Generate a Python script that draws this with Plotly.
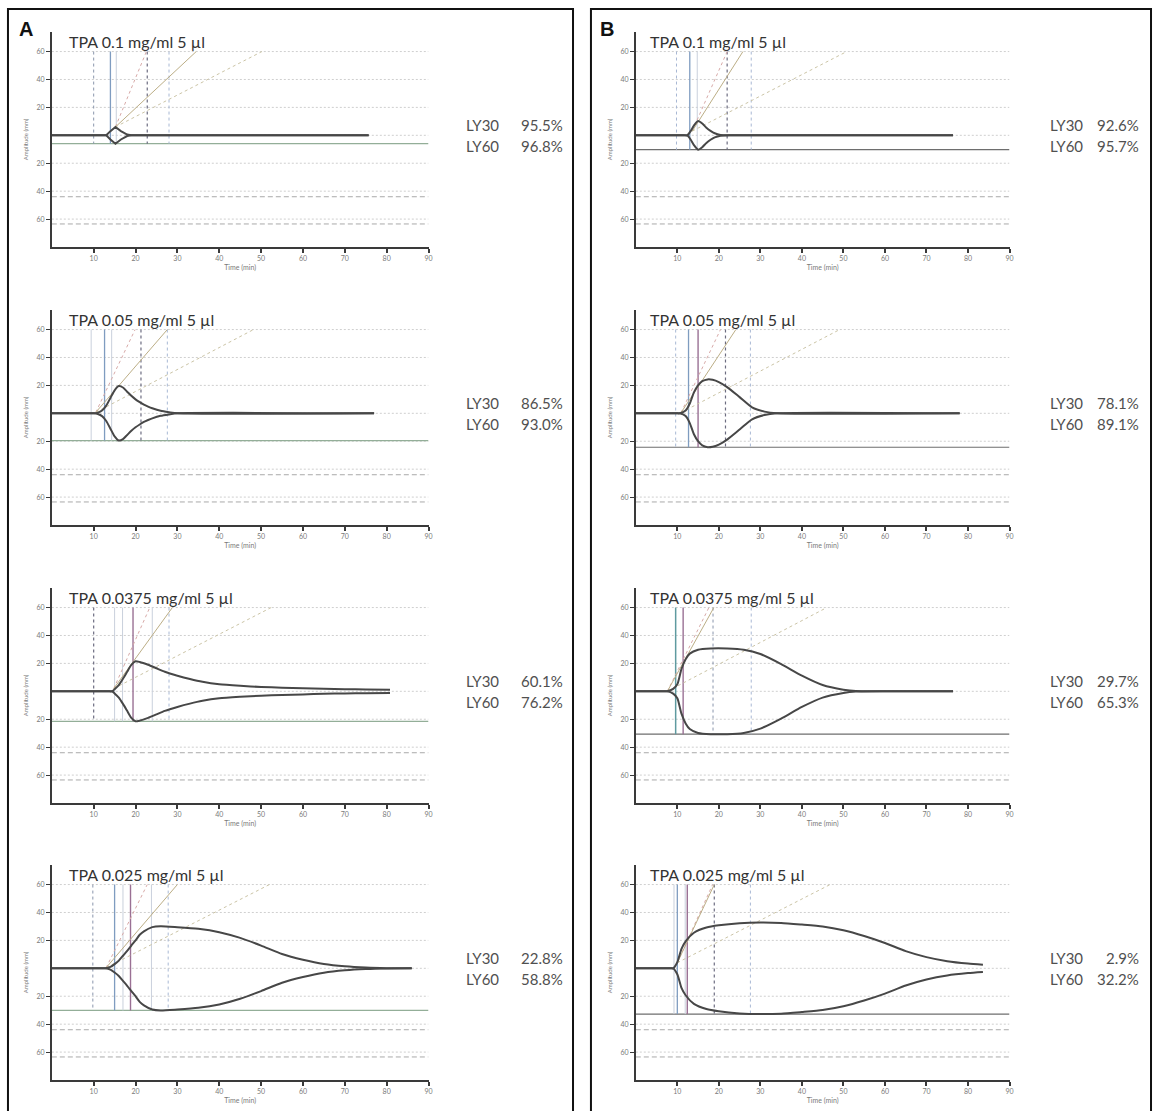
import plotly.graph_objects as go

W, H = 1159, 1111

# ---------------- data ----------------
PANELS = ["A", "B"]
TITLES = ["TPA 0.1 mg/ml 5 µl", "TPA 0.05 mg/ml 5 µl",
          "TPA 0.0375 mg/ml 5 µl", "TPA 0.025 mg/ml 5 µl"]

X_TICKS = [10, 20, 30, 40, 50, 60, 70, 80, 90]
Y_TICKS = [60, 40, 20, -20, -40, -60]
Y_TICK_TEXT = ["60", "40", "20", "20", "40", "60"]
GRID_LEVELS = [60, 40, 20, 0, -20, -40, -60]
DASHED_LEVELS = [-44, -63.5]

# lysis indices (%)
A_LY30 = [95.5, 86.5, 60.1, 22.8]
A_LY60 = [96.8, 93.0, 76.2, 58.8]
B_LY30 = [92.6, 78.1, 29.7, 2.9]
B_LY60 = [95.7, 89.1, 65.3, 32.2]

# tracing half-amplitude (mm) vs time (min)
A1_t = [0, 13.0, 14.0, 15.2, 16.5, 18.0, 19.0, 75.7]
A1_amp = [0, 0, 3, 6, 3, 0.5, 0, 0]
A2_t = [0, 9, 10, 11, 12, 13, 14, 15, 16, 17, 18, 19, 20, 21, 22, 23, 24, 26, 28, 30, 77]
A2_amp = [0, 0, 0, 0.5, 2, 5.5, 11, 16.5, 19.5, 18.5, 15.5, 12.5, 10, 8, 6.2, 4.8, 3.6, 1.8, 0.8, 0, 0]
A3_t = [0, 13.4, 14.4, 15, 16, 17, 18, 19, 20, 21, 23, 25, 27, 30, 33, 36, 40, 45, 50, 55, 60, 65, 70, 75, 80.8]
A3_amp = [0, 0, 0, 1.5, 4.5, 9, 14, 19, 21.5, 21, 19, 16.5, 14, 11.2, 8.8, 6.8, 5, 3.9, 3.1, 2.6, 2.2, 1.8, 1.5, 1.3, 1.2]
A4_t = [0, 11.8, 12.8, 14, 15, 16, 17, 18, 19, 20, 21, 22, 24, 26, 30, 35, 40, 45, 50, 55, 60, 65, 70, 75, 80, 86]
A4_amp = [0, 0, 0, 1, 3, 5.5, 9, 12.5, 16.3, 20, 24, 26.5, 29.5, 30.2, 29.5, 28.3, 25.9, 21.8, 16.3, 10.3, 6.2, 3.1, 1.4, 0.5, 0.1, 0]

B1_t = [0, 11.6, 12.4, 13.2, 14, 15, 16, 17, 18, 19, 20.4, 22.8, 76.4]
B1_amp = [0, 0, 0, 3, 7, 10.3, 8.5, 5.5, 3.2, 1.5, 0.3, 0, 0]
B2_t = [0, 9.8, 10.6, 12, 13, 14, 15, 16, 17.3, 18.5, 20, 22, 25, 28, 31, 34, 78]
B2_amp = [0, 0, 0, 2, 7, 15, 20, 23, 24.3, 24, 22.4, 18.8, 11.6, 4.3, 1.2, 0, 0]
B3_t = [0, 7.0, 7.6, 9, 10, 11, 12, 13, 15, 18, 22, 26, 30, 35, 40, 45, 50, 53, 60.8, 76.4]
B3_amp = [0, 0, 0, 1.7, 5, 16, 23, 27, 29.8, 30.7, 30.7, 29.8, 26.7, 19.5, 11.2, 4.5, 1.2, 0.2, 0, 0]
B4_t = [0, 8.4, 9, 10, 11, 12, 14, 17, 20, 25, 30, 35, 40, 45, 50, 55, 60, 65, 70, 75, 80, 83.6]
B4_amp = [0, 0, 0, 4.3, 14, 19.3, 25.5, 29.2, 30.8, 32.3, 32.8, 32.5, 31.3, 29.9, 27.2, 23.1, 18.1, 12.3, 8, 5.1, 3.4, 2.6]

# vertical time markers (min)
A1_marks = [10, 14, 15.4, 22.8, 28]
A2_marks = [9.4, 12.6, 14.3, 21.3, 27.6]
A3_marks = [10, 15, 16.9, 19.4, 24, 28]
A4_marks = [9.8, 15, 17, 18.8, 23.8, 27.8]
B1_marks = [9.8, 13, 14.8, 22, 27.8]
B2_marks = [9.6, 12.7, 15, 21.6, 27.6]
B3_marks = [9.6, 11.4, 18.6, 27.8]
B4_marks = [9.2, 10, 11.9, 12.4, 18.9, 27.6]

# slope guides: origin (t, amp) and times where they reach 60 mm
A1_slope = (15.2, 6, [22.6, 34.5, 50.2])
A2_slope = (10.5, 0.7, [19.9, 27.6, 48.2])
A3_slope = (14.8, 2, [23.4, 28.8, 52.4])
A4_slope = (13.0, 0.5, [22.8, 30.0, 52.0])
B1_slope = (13.6, 3, [22.0, 25.8, 50.8])
B2_slope = (10.9, 0.5, [20.4, 24.1, 49.1])
B3_slope = (7.6, 0, [17.6, 18.8, 46.0])
B4_slope = (10.0, 4, [18.5, 18.9, 46.8])

# ---------------- styles ----------------
MARK_STYLE = {
    "dot": dict(color="#8a96ac", width=1, dash="dot"),
    "blue": dict(color="#7f9cc0", width=1.3, dash="solid"),
    "light": dict(color="#c9d0dc", width=1, dash="solid"),
    "dark": dict(color="#6c6c80", width=1.2, dash="dot"),
    "purple": dict(color="#9a7094", width=1.4, dash="solid"),
    "lblue": dict(color="#a8b8d4", width=1, dash="dot"),
    "teal": dict(color="#5f9aa0", width=1.5, dash="solid"),
}
A_MARK_KEYS = [
    ["dot", "blue", "light", "dark", "lblue"],
    ["light", "blue", "light", "dark", "lblue"],
    ["dark", "light", "light", "purple", "light", "lblue"],
    ["dot", "blue", "light", "purple", "light", "lblue"],
]
B_MARK_KEYS = [
    ["lblue", "blue", "light", "dark", "lblue"],
    ["lblue", "blue", "purple", "dark", "lblue"],
    ["teal", "purple", "dot", "lblue"],
    ["light", "blue", "light", "purple", "dark", "lblue"],
]
SLOPE_STYLE = [
    dict(color="#d8aaa8", width=1, dash="dot"),
    dict(color="#bcae86", width=1, dash="solid"),
    dict(color="#cbc4a6", width=1, dash="dot"),
]
MA_COLOR = {"A": "#93ae98", "B": "#6e6e6e"}

PANEL_X = {"A": (52, 430), "B": (638, 1013)}
ROW_TOP = [32, 310, 588, 865]
ROW_H = 215
Y_RANGE = [-80, 74]


def px(x):
    return x / W


def py(y):
    return 1 - y / H


series = {
    "A": [(A1_t, A1_amp, A1_marks, A1_slope), (A2_t, A2_amp, A2_marks, A2_slope),
          (A3_t, A3_amp, A3_marks, A3_slope), (A4_t, A4_amp, A4_marks, A4_slope)],
    "B": [(B1_t, B1_amp, B1_marks, B1_slope), (B2_t, B2_amp, B2_marks, B2_slope),
          (B3_t, B3_amp, B3_marks, B3_slope), (B4_t, B4_amp, B4_marks, B4_slope)],
}
mark_keys = {"A": A_MARK_KEYS, "B": B_MARK_KEYS}
ly = {"A": (A_LY30, A_LY60), "B": (B_LY30, B_LY60)}

fig = go.Figure()
layout = {}
shapes = []
annotations = []

axis_font = dict(family="Lato, sans-serif", size=7, color="#7a7a7a")

k = 0
for p in PANELS:
    x0, x1 = PANEL_X[p]
    for i in range(4):
        k += 1
        xa = "xaxis" if k == 1 else f"xaxis{k}"
        ya = "yaxis" if k == 1 else f"yaxis{k}"
        xr = "x" if k == 1 else f"x{k}"
        yr = "y" if k == 1 else f"y{k}"
        top = ROW_TOP[i]
        bot = top + ROW_H
        layout[xa] = dict(
            domain=[px(x0), px(x1)], range=[0, 90], anchor=yr,
            showline=True, linecolor="#3a3a3a", linewidth=1.5,
            ticks="outside", ticklen=4, tickwidth=1.5, tickcolor="#3a3a3a",
            tickvals=X_TICKS, tickfont=axis_font,
            showgrid=False, zeroline=False, fixedrange=True,
            title=dict(text="Time (min)", font=dict(family="Lato, sans-serif", size=7, color="#7a7a7a"), standoff=4),
        )
        layout[ya] = dict(
            domain=[py(bot), py(top)], range=Y_RANGE, anchor=xr,
            showline=True, linecolor="#3a3a3a", linewidth=1.5,
            ticks="outside", ticklen=4, tickwidth=1.2, tickcolor="#3a3a3a",
            tickvals=Y_TICKS, ticktext=Y_TICK_TEXT, tickfont=axis_font,
            showgrid=False, zeroline=False, fixedrange=True,
            title=dict(text="Amplitude (mm)", font=dict(family="Lato, sans-serif", size=6, color="#7a7a7a"), standoff=7),
        )

        t, amp, marks, slope = series[p][i]
        ma = max(amp)

        # horizontal reference lines
        for v in GRID_LEVELS:
            shapes.append(dict(type="line", xref=xr, yref=yr, x0=0, x1=90, y0=v, y1=v,
                               line=dict(color="#cfcfcf", width=1, dash="2px,2px"), layer="below"))
        for v in DASHED_LEVELS:
            shapes.append(dict(type="line", xref=xr, yref=yr, x0=0, x1=90, y0=v, y1=v,
                               line=dict(color="#a9a9a9", width=1, dash="5px,3px"), layer="below"))
        # maximum amplitude level
        shapes.append(dict(type="line", xref=xr, yref=yr, x0=0, x1=90, y0=-ma, y1=-ma,
                           line=dict(color=MA_COLOR[p], width=1.2), layer="below"))
        # time markers
        for tm, key in zip(marks, mark_keys[p][i]):
            shapes.append(dict(type="line", xref=xr, yref=yr, x0=tm, x1=tm, y0=60, y1=-ma,
                               line=MARK_STYLE[key], layer="below"))
        # slope guides
        ot, oa, ends = slope
        for te, st in zip(ends, SLOPE_STYLE):
            fig.add_trace(go.Scatter(x=[ot, te], y=[oa, 60], mode="lines", line=st,
                                     xaxis=xr, yaxis=yr, hoverinfo="skip"))
        # tracing (upper and lower halves)
        shape = "linear" if (p, i) == ("A", 0) else "spline"
        for sgn in (1, -1):
            fig.add_trace(go.Scatter(
                x=t, y=[sgn * a for a in amp], mode="lines",
                line=dict(color="#474747", width=2, shape=shape, smoothing=0.6),
                xaxis=xr, yaxis=yr, hoverinfo="skip"))

        # title
        annotations.append(dict(
            text=TITLES[i], xref="paper", yref="paper",
            x=px(x0 + 15 if p == "A" else x0 + 12), y=py(top + 9),
            xanchor="left", yanchor="middle", showarrow=False,
            font=dict(family="Lato, sans-serif", size=16, color="#333333")))
        # lysis text
        zero_y = top + 74 * ROW_H / (Y_RANGE[1] - Y_RANGE[0])
        lx = 466 if p == "A" else 1052
        rx = 567 if p == "A" else 1145
        for lab, val, dy in (("LY30", ly[p][0][i], -10), ("LY60", ly[p][1][i], 11)):
            annotations.append(dict(text=lab, xref="paper", yref="paper", x=px(lx), y=py(zero_y + dy),
                                    xanchor="left", yanchor="middle", showarrow=False,
                                    font=dict(family="Lato, sans-serif", size=15, color="#505050")))
            annotations.append(dict(text=f"{val:.1f}%", xref="paper", yref="paper", x=px(rx), y=py(zero_y + dy),
                                    xanchor="right", yanchor="middle", showarrow=False,
                                    font=dict(family="Lato, sans-serif", size=15, color="#505050")))

# panel frames and letters
for p, (bx0, bx1, lx) in {"A": (8, 575, 26), "B": (593, 1155, 609)}.items():
    shapes.append(dict(type="rect", xref="paper", yref="paper", x0=px(bx0), x1=px(bx1),
                       y0=-0.05, y1=py(9), line=dict(color="#111111", width=2), fillcolor="rgba(0,0,0,0)"))
    annotations.append(dict(text=f"<b>{p}</b>", xref="paper", yref="paper", x=px(lx), y=py(29),
                            xanchor="center", yanchor="middle", showarrow=False,
                            font=dict(family="Liberation Sans, Arial, sans-serif", size=20, color="#111111")))

fig.update_layout(
    width=W, height=H, margin=dict(l=0, r=0, t=0, b=0),
    paper_bgcolor="white", plot_bgcolor="white", showlegend=False,
    shapes=shapes, annotations=annotations, **layout)

fig.write_html("out.html")
